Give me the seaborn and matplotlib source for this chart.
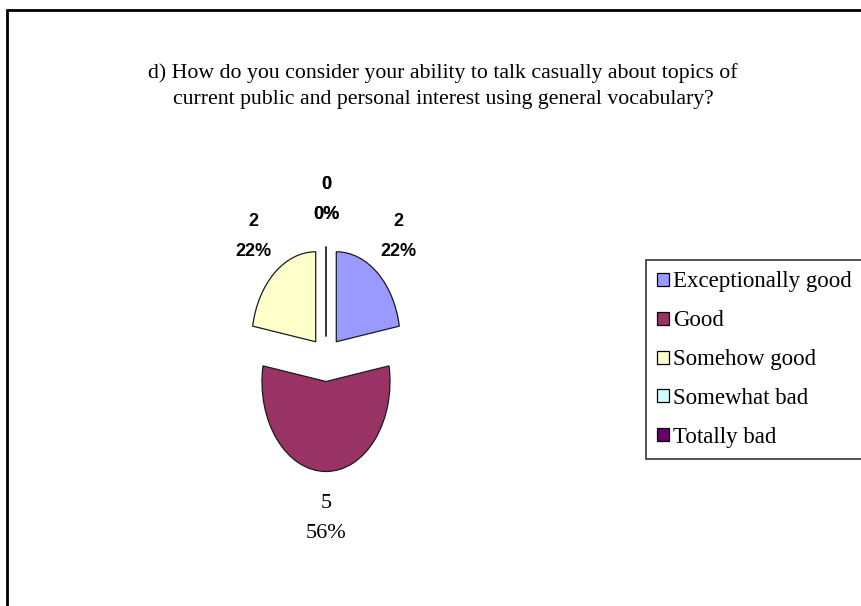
import matplotlib
matplotlib.use("Agg")
import matplotlib.pyplot as plt
from matplotlib.lines import Line2D
import seaborn as sns

sns.set_theme(style="white")
plt.rcParams["font.family"] = ["Liberation Serif", "DejaVu Serif"]
plt.rcParams["text.color"] = "black"

# Survey answers
categories = ["Exceptionally good", "Good", "Somehow good", "Somewhat bad", "Totally bad"]
counts = [2, 5, 2, 0, 0]
colors = ["#9999FF", "#993366", "#FFFFCC", "#CCFFFF", "#660066"]
title = ("d) How do you consider your ability to talk casually about topics of\n"
         "current public and personal interest using general vocabulary?")

W, H = 862, 606
fig = plt.figure(figsize=(W / 100, H / 100), dpi=100)
fig.patch.set_facecolor("white")

# pie axes: stretched so the pie is drawn as a tall ellipse
ax = fig.add_axes([198 / W, (H - 584) / H, 256 / W, 450 / H])
total = sum(counts)
labels = [f"{c}\n{round(100 * c / total)}%" for c in counts]
wedges, texts = ax.pie(
    counts,
    colors=colors,
    labels=labels,
    startangle=90,
    counterclock=False,
    explode=[0.25] * len(counts),
    labeldistance=1.52,
    wedgeprops=dict(edgecolor="#1a1a1a", linewidth=0.9),
    normalize=True,
)
ax.set_aspect("auto")
ax.set_xlim(-2, 2)
ax.set_ylim(-2.5, 2.5)
ax.axis("off")

for i, t in enumerate(texts):
    t.set_ha("center")
    t.set_va("center")
    if counts[i] == max(counts):
        t.set_family(["Liberation Serif"])
        t.set_fontsize(16)
        t.set_linespacing(1.8)
    else:
        t.set_family(["Liberation Sans"])
        t.set_fontweight("bold")
        t.set_fontsize(13)
        t.set_linespacing(2.0)
    t.set_color("black")

fig.text(443 / W, 1 - 86 / H, title, ha="center", va="center",
         fontsize=15.7, linespacing=1.45, color="black")

leg = fig.legend(
    wedges, categories,
    loc="upper left", bbox_to_anchor=(646 / W, 1 - 260 / H, 230 / W, 0),
    mode="expand",
    frameon=True, fancybox=False, fontsize=16.5,
    handlelength=0.5, handleheight=0.5, handletextpad=0.2,
    labelspacing=0.78, borderpad=0.5, borderaxespad=0,
)
leg.get_frame().set_edgecolor("black")
leg.get_frame().set_linewidth(1.2)
for txt in leg.get_texts():
    txt.set_color("black")
for h in leg.legend_handles:
    h.set_edgecolor("black")
    h.set_linewidth(0.9)

# chart border (top and left edges)
fig.add_artist(Line2D([7 / W, 1], [1 - 9.5 / H] * 2, transform=fig.transFigure,
                      color="black", lw=2))
fig.add_artist(Line2D([7 / W] * 2, [0, 1 - 9.5 / H], transform=fig.transFigure,
                      color="black", lw=2))

fig.savefig("out.png", dpi=100, facecolor="white")
